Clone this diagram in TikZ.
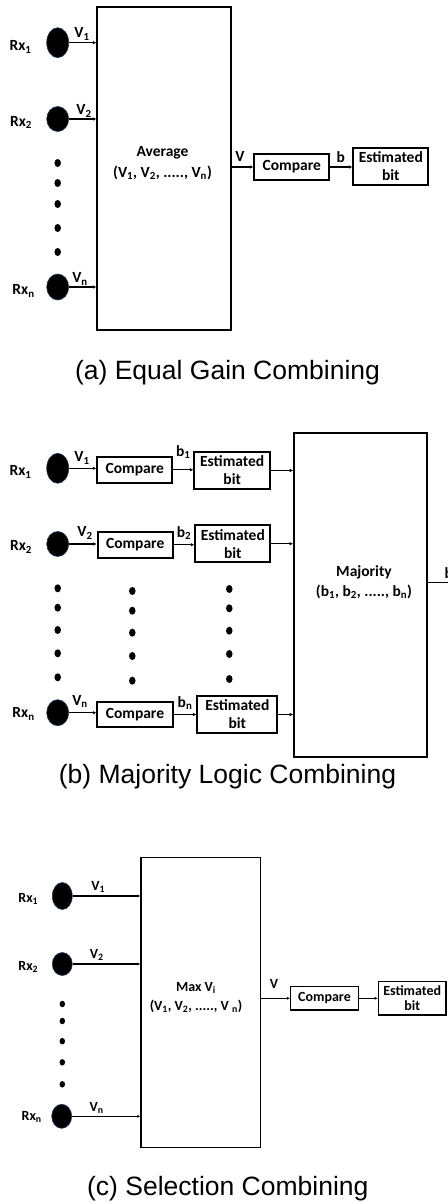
\documentclass[tikz,border=0pt]{standalone}
\usepackage{fontspec}
\setmainfont{Carlito}
\newfontfamily\capfont{Liberation Sans}
\usetikzlibrary{shapes.geometric,arrows.meta}
\definecolor{rxedge}{HTML}{1F3A5F}
\newcommand{\sbs}[1]{\textsubscript{#1}}
\begin{document}
\begin{tikzpicture}[x=1pt,y=-1pt,
  txt/.style={font=\fontsize{15.5}{18}\selectfont\bfseries, inner sep=0pt, align=center},
  txtc/.style={font=\fontsize{14}{15.6}\selectfont\bfseries, inner sep=0pt, align=center},
  blk/.style={draw, line width=1.8pt, inner sep=0pt},
  blkc/.style={draw, line width=1.4pt, inner sep=0pt},
  arr/.style={line width=1.5pt, -{Latex[length=3.5pt,width=3.5pt]}},
  arrc/.style={line width=1.1pt, -{Latex[length=3pt,width=3pt]}},
  rx/.style={ellipse, fill=black, draw=rxedge, line width=0.6pt, inner sep=0pt},
  dot/.style={ellipse, fill=black, inner sep=0pt, minimum width=6.5pt, minimum height=8pt},
  dotc/.style={ellipse, fill=black, inner sep=0pt, minimum width=5.5pt, minimum height=6.5pt},
  captxt/.style={font=\capfont\fontsize{26.5}{30}\selectfont, inner sep=0pt},
]
\useasboundingbox (0,0) rectangle (447,1204);

% ---------------- (a) Equal Gain Combining ----------------
\node[rx, minimum width=22pt, minimum height=30pt] (a1) at (57.7,42.7) {};
\node[txt] (la1) at (20.5,47) {Rx\sbs{1}};
\node[rx, minimum width=22pt, minimum height=25pt] (a2) at (57.7,119) {};
\node[txt] (la2) at (21,122.5) {Rx\sbs{2}};
\node[rx, minimum width=22pt, minimum height=26pt] (an) at (57.7,287) {};
\node[txt] (lan) at (23.5,291) {Rx\sbs{n}};
\foreach \y [count=\i] in {163,183,204,228,252} \node[dot] (ad\i) at (57.7,\y) {};

\node[blk, minimum width=133.7pt, minimum height=323.3pt] (avg) at (164.2,168.3) {};
\node[txt, font=\fontsize{15.5}{21}\selectfont\bfseries] (avgt) at (162.5,163) {Average\\(V\sbs{1}, V\sbs{2}, ....., V\sbs{n})};

\draw[arr] (a1.east) -- (a1.east -| avg.west);
\draw[arr] (a2.east) -- (a2.east -| avg.west);
\draw[arr] (an.east) -- (an.east -| avg.west);
\node[txt] (va1) at (82,34) {V\sbs{1}};
\node[txt] (va2) at (84,111) {V\sbs{2}};
\node[txt] (van) at (80,279) {V\sbs{n}};

\node[blk, minimum width=75pt, minimum height=26pt, txt] (cmpA) at (291.8,167) {Compare};
\node[blk, minimum width=75pt, minimum height=37.3pt, txt] (estA) at (390.8,166.3) {Estimated\\bit};
\draw[arr] (cmpA.west -| avg.east) -- (cmpA.west);
\draw[arr] (cmpA.east) -- (cmpA.east -| estA.west);
\node[txt] (vA) at (240,156) {V};
\node[txt] (bA) at (340.7,157) {b};

\node[captxt] (capa) at (227.5,373) {(a) Equal Gain Combining};

% ---------------- (b) Majority Logic Combining ----------------
\node[rx, minimum width=22pt, minimum height=30pt] (b1) at (57.7,468.3) {};
\node[txt] (lb1) at (20.5,472) {Rx\sbs{1}};
\node[rx, minimum width=22pt, minimum height=25pt] (b2) at (57.7,544) {};
\node[txt] (lb2) at (21,547) {Rx\sbs{2}};
\node[rx, minimum width=22pt, minimum height=26pt] (bn) at (57.7,712.7) {};
\node[txt] (lbn) at (23.5,714) {Rx\sbs{n}};

\node[blk, txt, minimum width=75pt, minimum height=26pt] (cb1) at (134.8,469.7) {Compare};
\node[blk, txt, minimum width=75pt, minimum height=26pt] (cb2) at (135.2,544.7) {Compare};
\node[blk, txt, minimum width=75.4pt, minimum height=25.6pt] (cbn) at (135,714.5) {Compare};

\node[blk, txt, minimum width=75.7pt, minimum height=37.6pt] (eb1) at (232.2,470.5) {Estimated\\bit};
\node[blk, txt, minimum width=75pt, minimum height=37.3pt] (eb2) at (232.8,543.7) {Estimated\\bit};
\node[blk, txt, minimum width=80pt, minimum height=37.6pt] (ebn) at (237.3,714.5) {Estimated\\bit};

\node[blk, minimum width=133.3pt, minimum height=324pt] (maj) at (360.7,595.3) {};
\node[txt, font=\fontsize{15.5}{20}\selectfont\bfseries] (majt) at (364,582) {Majority\\(b\sbs{1}, b\sbs{2}, ....., b\sbs{n})};

\draw[arr] (b1.east) -- (b1.east -| cb1.west);
\draw[arr] (b2.east) -- (b2.east -| cb2.west);
\draw[arr] (bn.east) -- (bn.east -| cbn.west);
\draw[arr] (cb1.east) -- (cb1.east -| eb1.west);
\draw[arr] (cb2.east) -- (cb2.east -| eb2.west);
\draw[arr] (cbn.east) -- (cbn.east -| ebn.west);
\draw[arr] (eb1.east) -- (eb1.east -| maj.west);
\draw[arr] (eb2.east) -- (eb2.east -| maj.west);
\draw[arr] (ebn.east) -- (ebn.east -| maj.west);

\node[txt] (vb1) at (82,458) {V\sbs{1}};
\node[txt] (vb2) at (85,533) {V\sbs{2}};
\node[txt] (vbn) at (80,701.7) {V\sbs{n}};
\node[txt] (bb1) at (183.3,452.3) {b\sbs{1}};
\node[txt] (bb2) at (184,533) {b\sbs{2}};
\node[txt] (bbn) at (185,703.3) {b\sbs{n}};

\foreach \y [count=\i] in {588.3,607.7,630,653.3,677.3} \node[dot] (bd\i) at (57.7,\y) {};
\foreach \y [count=\i] in {591,610.7,632.7,656,680.7} \node[dot] (be\i) at (132.3,\y) {};
\foreach \y [count=\i] in {589,608.3,630.7,654,679} \node[dot] (bf\i) at (229.3,\y) {};

\coordinate (bout) at (448,582.7);
\draw[line width=1.5pt] (bout -| maj.east) -- (bout);
\node[txt, anchor=base west] (bB) at (444.5,578) {b};

\node[captxt] (capb) at (227.5,777) {(b) Majority Logic Combining};

% ---------------- (c) Selection Combining ----------------
\node[rx, minimum width=20pt, minimum height=27pt] (c1) at (62.3,896) {};
\node[txtc] (lc1) at (28.3,899.3) {Rx\sbs{1}};
\node[rx, minimum width=20pt, minimum height=23pt] (c2) at (62.3,964) {};
\node[txtc] (lc2) at (28.3,966.7) {Rx\sbs{2}};
\node[rx, minimum width=20pt, minimum height=24pt] (cn) at (61.7,1116.3) {};
\node[txtc] (lcn) at (31.7,1117.3) {Rx\sbs{n}};
\foreach \y [count=\i] in {1004,1021,1041.2,1062.3,1084.3} \node[dotc] (cd\i) at (62.3,\y) {};

\node[blkc, minimum width=119.3pt, minimum height=290.4pt] (maxb) at (200.7,1002.5) {};
\node[txtc, font=\fontsize{14}{18.4}\selectfont\bfseries] (maxt) at (196,997.5) {Max V\sbs{i}\\(V\sbs{1}, V\sbs{2}, ....., V \sbs{n})};

\draw[arrc] (c1.east) -- (c1.east -| maxb.west);
\draw[arrc] (c2.east) -- (c2.east -| maxb.west);
\draw[arrc] (cn.east) -- (cn.east -| maxb.west);
\node[txtc] (vc1) at (98.3,887.3) {V\sbs{1}};
\node[txtc] (vc2) at (96.7,955) {V\sbs{2}};
\node[txtc] (vcn) at (96.7,1108.3) {V\sbs{n}};

\node[blkc, txtc, minimum width=67.6pt, minimum height=23.3pt] (cmpC) at (324.5,998.3) {Compare};
\node[blkc, txtc, minimum width=67.7pt, minimum height=33.3pt] (estC) at (412.2,998.3) {Estimated\\bit};
\draw[arrc] (cmpC.west -| maxb.east) -- (cmpC.west);
\draw[arrc] (cmpC.east) -- (cmpC.east -| estC.west);
\node[txtc] (vC) at (274,984.3) {V};

\node[captxt] (capc) at (227.8,1188.3) {(c) Selection Combining};
\end{tikzpicture}
\end{document}
